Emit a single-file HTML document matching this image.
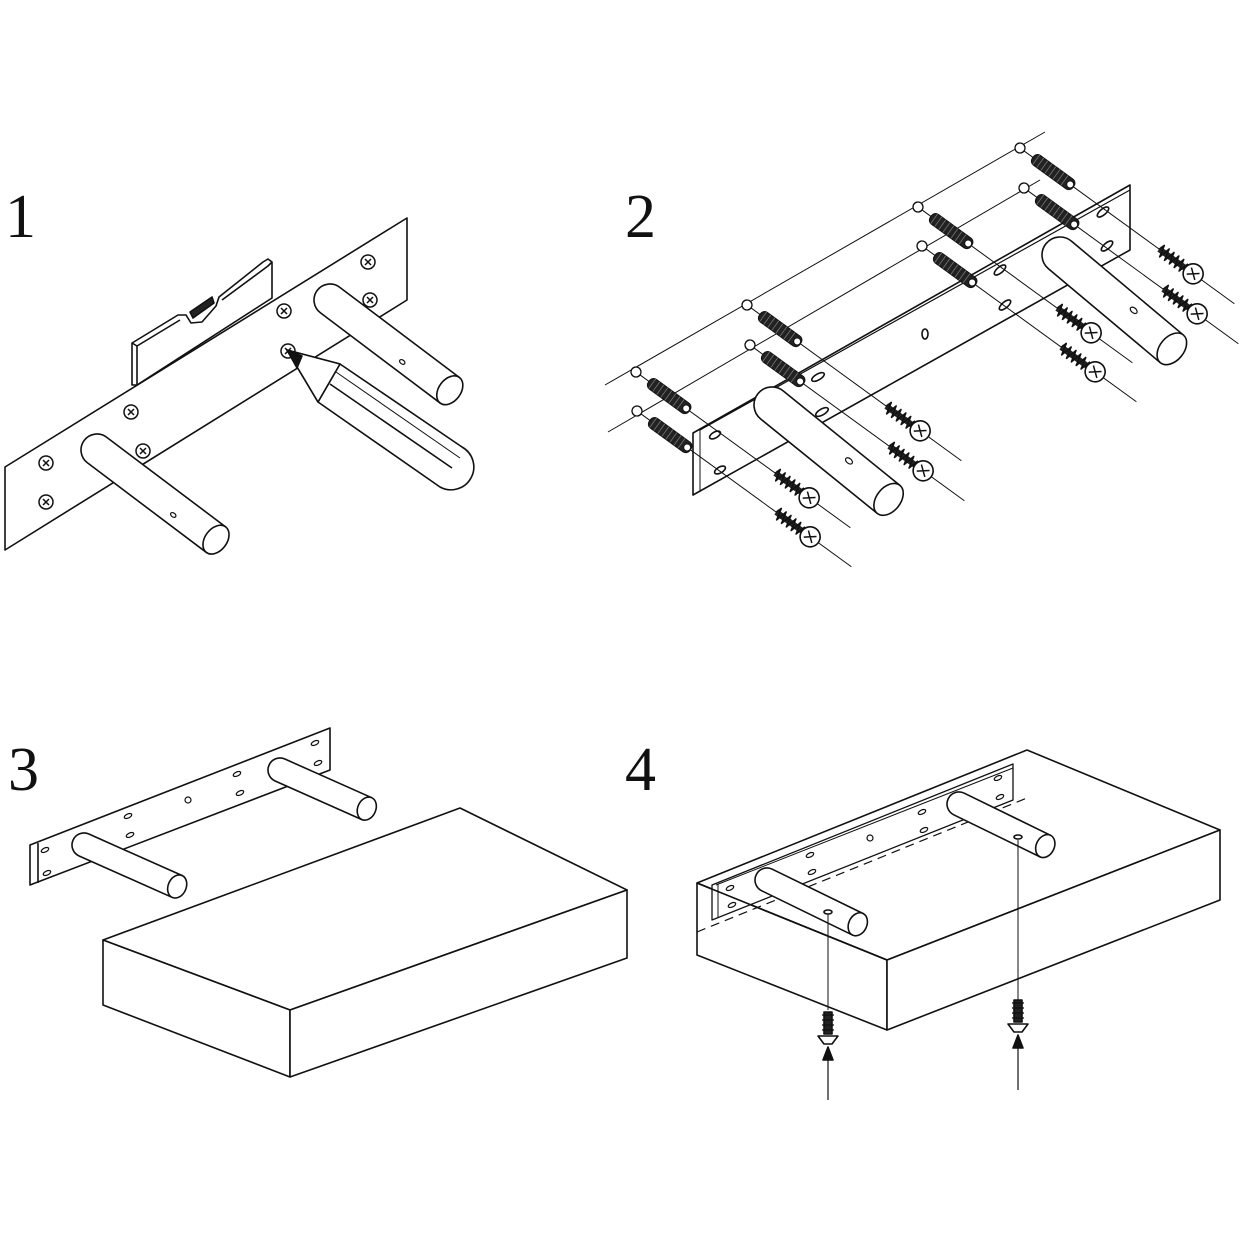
<!DOCTYPE html>
<html><head><meta charset="utf-8"><style>
html,body{margin:0;padding:0;background:#fff}
svg{display:block}
text{font-family:"Liberation Serif",serif;font-size:62px;fill:#111}
</style></head><body>
<svg width="1240" height="1240" viewBox="0 0 1240 1240" xmlns="http://www.w3.org/2000/svg">
<defs>
<g id="sh"><circle r="7" fill="#fff" stroke="#111" stroke-width="1.5"/><path d="M-3,-3L3,3M-3,3L3,-3" stroke="#111" stroke-width="1.5"/></g>
<g id="plugscrew" stroke="#111" fill="none">
 <circle cx="0" cy="0" r="5" fill="#fff" stroke-width="1.3"/>
 <line x1="5" y1="0" x2="265" y2="0" stroke-width="1"/>
 <rect x="16" y="-6" width="50" height="12" rx="5" fill="#222" stroke-width="1"/>
 <path d="M20,-6v12M25,-6v12M30,-6v12M35,-6v12M40,-6v12M45,-6v12M50,-6v12M55,-6v12" stroke="#777" stroke-width="0.8"/>
 <circle cx="62" cy="0" r="3.5" fill="#fff" stroke-width="1"/>
 <rect x="172" y="-3" width="34" height="6" fill="#222" stroke="none"/>
 <path d="M172,0 L174,-6 L177,6 L180,-6 L183,6 L186,-6 L189,6 L192,-6 L195,6 L198,-6 L201,6 L204,-5" stroke="#111" stroke-width="1.6"/>
 <circle cx="214" cy="0" r="10" fill="#fff" stroke-width="1.6"/>
 <path d="M209,-4L219,4M209,4L219,-4" stroke-width="1.5"/>
</g>
</defs>
<g fill="none" stroke="#111" stroke-width="1.6" stroke-linejoin="round">
<text x="5" y="237" stroke="none">1</text>
<text x="625" y="237" stroke="none">2</text>
<text x="8" y="790" stroke="none">3</text>
<text x="625" y="790" stroke="none">4</text>

<!-- PANEL 1 -->
<polygon points="5,467 407,218 407,300 5,550" fill="#fff"/>
<polygon points="132,343 137,340 178,315 186,315 191,323 202,322 216,306 219,297 263,262 268,259 272,262 272,298 137,385 132,385" fill="#fff"/>
<line x1="137" y1="346" x2="137" y2="385"/>
<polyline points="132,343 137,346 180,320"/>
<polyline points="222,300 268,266 272,262"/>
<path d="M193,318 L214,303 L212,297 L190,312Z" fill="#222"/>
<use href="#sh" x="46" y="463"/><use href="#sh" x="46" y="502"/>
<use href="#sh" x="131" y="412"/><use href="#sh" x="143" y="451"/>
<use href="#sh" x="284" y="311"/><use href="#sh" x="288" y="351"/>
<use href="#sh" x="368" y="262"/><use href="#sh" x="370" y="300"/>
<g transform="translate(97,450) rotate(37)"><path d="M0,-16 L149,-16 L149,16 L0,16 A16,16 0 0 1 0,-16Z" fill="#fff"/><ellipse cx="149" cy="0" rx="11" ry="16" fill="#fff"/><ellipse cx="100" cy="6" rx="3" ry="2" stroke-width="1.2"/></g>
<path d="M287,350 L340,364 L462,447 A22,22 0 0 1 440,487 L318,402 Z" fill="#fff"/>
<line x1="340" y1="364" x2="318" y2="402"/>
<line x1="330" y1="384" x2="452" y2="468"/>
<line x1="336" y1="372" x2="460" y2="458" stroke-width="1"/>
<g transform="translate(330,300) rotate(37)"><path d="M0,-16 L150,-16 L150,16 L0,16 A16,16 0 0 1 0,-16Z" fill="#fff"/><ellipse cx="150" cy="0" rx="11" ry="16" fill="#fff"/><ellipse cx="95" cy="6" rx="3" ry="2" stroke-width="1.2"/></g>
<path d="M287,350 L340,364 L318,402 Z" fill="#fff"/>
<path d="M287,350 L302,356 L297,368 Z" fill="#111"/>

<!-- PANEL 2 -->
<line x1="605" y1="385" x2="1045" y2="132" stroke-width="1"/>
<line x1="608" y1="432" x2="1040" y2="180" stroke-width="1"/>
<polygon points="693,433 1130,185 1130,250 693,495" fill="#fff"/>
<line x1="700" y1="430" x2="1130" y2="190" stroke-width="1.2"/>
<line x1="700" y1="430" x2="700" y2="492" stroke-width="1"/>
<ellipse cx="715" cy="435" rx="6" ry="3" transform="rotate(-30 715 435)"/>
<ellipse cx="720" cy="470" rx="6" ry="3" transform="rotate(-30 720 470)"/>
<ellipse cx="818" cy="377" rx="7" ry="3" transform="rotate(-30 818 377)"/>
<ellipse cx="822" cy="412" rx="7" ry="3" transform="rotate(-30 822 412)"/>
<ellipse cx="925" cy="334" rx="3" ry="5"/>
<ellipse cx="1000" cy="270" rx="7" ry="3" transform="rotate(-40 1000 270)"/>
<ellipse cx="1005" cy="305" rx="7" ry="3" transform="rotate(-40 1005 305)"/>
<ellipse cx="1103" cy="212" rx="7" ry="3" transform="rotate(-40 1103 212)"/>
<ellipse cx="1107" cy="246" rx="7" ry="3" transform="rotate(-40 1107 246)"/>
<g transform="translate(772,405) rotate(39)"><path d="M0,-18 L150,-18 L150,18 L0,18 A18,18 0 0 1 0,-18Z" fill="#fff"/><ellipse cx="150" cy="0" rx="12" ry="18" fill="#fff"/><ellipse cx="95" cy="-5" rx="4" ry="2.5" stroke-width="1.2"/></g>
<g transform="translate(1060,255) rotate(40)"><path d="M0,-18 L146,-18 L146,18 L0,18 A18,18 0 0 1 0,-18Z" fill="#fff"/><ellipse cx="146" cy="0" rx="12" ry="18" fill="#fff"/><ellipse cx="92" cy="-5" rx="4" ry="2.5" stroke-width="1.2"/></g>
<use href="#plugscrew" transform="translate(1020,148) rotate(36)"/>
<use href="#plugscrew" transform="translate(1024,188) rotate(36)"/>
<use href="#plugscrew" transform="translate(918,207) rotate(36)"/>
<use href="#plugscrew" transform="translate(922,246) rotate(36)"/>
<use href="#plugscrew" transform="translate(747,305) rotate(36)"/>
<use href="#plugscrew" transform="translate(750,345) rotate(36)"/>
<use href="#plugscrew" transform="translate(636,372) rotate(36)"/>
<use href="#plugscrew" transform="translate(637,411) rotate(36)"/>

<!-- PANEL 3 -->
<polygon points="30,845 330,728 330,770 30,885" fill="#fff"/>
<line x1="38" y1="843" x2="38" y2="883"/>
<g stroke-width="1.2">
<ellipse cx="45" cy="850" rx="4" ry="2" transform="rotate(-25 45 850)"/>
<ellipse cx="47" cy="873" rx="4" ry="2" transform="rotate(-25 47 873)"/>
<ellipse cx="128" cy="816" rx="4" ry="2" transform="rotate(-25 128 816)"/>
<ellipse cx="130" cy="835" rx="4" ry="2" transform="rotate(-25 130 835)"/>
<ellipse cx="188" cy="800" rx="3" ry="3"/>
<ellipse cx="237" cy="774" rx="4" ry="2" transform="rotate(-25 237 774)"/>
<ellipse cx="240" cy="793" rx="4" ry="2" transform="rotate(-25 240 793)"/>
<ellipse cx="315" cy="743" rx="4" ry="2" transform="rotate(-25 315 743)"/>
<ellipse cx="318" cy="763" rx="4" ry="2" transform="rotate(-25 318 763)"/>
</g>
<g transform="translate(84,845) rotate(24)"><path d="M0,-12 L102,-12 L102,12 L0,12 A12,12 0 0 1 0,-12Z" fill="#fff"/><ellipse cx="102" cy="0" rx="9" ry="12" fill="#fff"/></g>
<g transform="translate(280,770) rotate(24)"><path d="M0,-12 L95,-12 L95,12 L0,12 A12,12 0 0 1 0,-12Z" fill="#fff"/><ellipse cx="95" cy="0" rx="9" ry="12" fill="#fff"/></g>
<polygon points="103,940 460,808 627,890 290,1010" fill="#fff"/>
<polygon points="103,940 290,1010 290,1077 103,1005" fill="#fff"/>
<polygon points="290,1010 627,890 627,958 290,1077" fill="#fff"/>

<!-- PANEL 4 -->
<polygon points="697,883 1027,750 1220,830 887,960" fill="#fff"/>
<polygon points="697,883 887,960 887,1030 697,955" fill="#fff"/>
<polygon points="887,960 1220,830 1220,900 887,1030" fill="#fff"/>
<polygon points="712,885 1013,764 1013,800 712,920" fill="#fff" stroke-width="1.3"/>
<line x1="716" y1="885" x2="1013" y2="768" stroke-width="1"/>
<line x1="718" y1="884" x2="718" y2="918" stroke-width="1"/>
<line x1="697" y1="932" x2="1027" y2="798" stroke-dasharray="9,6" stroke-width="1.2"/>
<g stroke-width="1.2">
<ellipse cx="730" cy="888" rx="4" ry="2" transform="rotate(-25 730 888)"/>
<ellipse cx="732" cy="905" rx="4" ry="2" transform="rotate(-25 732 905)"/>
<ellipse cx="810" cy="855" rx="4" ry="2" transform="rotate(-25 810 855)"/>
<ellipse cx="812" cy="872" rx="4" ry="2" transform="rotate(-25 812 872)"/>
<ellipse cx="870" cy="838" rx="3" ry="3"/>
<ellipse cx="922" cy="812" rx="4" ry="2" transform="rotate(-25 922 812)"/>
<ellipse cx="924" cy="830" rx="4" ry="2" transform="rotate(-25 924 830)"/>
<ellipse cx="998" cy="778" rx="4" ry="2" transform="rotate(-25 998 778)"/>
<ellipse cx="1000" cy="797" rx="4" ry="2" transform="rotate(-25 1000 797)"/>
</g>
<line x1="697" y1="883" x2="887" y2="960" stroke-width="1.6"/>
<g transform="translate(767,880) rotate(26)"><path d="M0,-12 L101,-12 L101,12 L0,12 A12,12 0 0 1 0,-12Z" fill="#fff"/><ellipse cx="101" cy="0" rx="9" ry="12" fill="#fff"/></g>
<g transform="translate(959,804) rotate(26)"><path d="M0,-12 L96,-12 L96,12 L0,12 A12,12 0 0 1 0,-12Z" fill="#fff"/><ellipse cx="96" cy="0" rx="9" ry="12" fill="#fff"/></g>
<ellipse cx="828" cy="912" rx="4" ry="2"/>
<ellipse cx="1018" cy="837" rx="4" ry="2"/>
<line x1="828" y1="914" x2="828" y2="1010" stroke-width="1"/>
<line x1="1018" y1="840" x2="1018" y2="1000" stroke-width="1"/>
<g>
<rect x="824" y="1012" width="8" height="22" fill="#222"/>
<path d="M822,1015h12M822,1020h12M822,1025h12M822,1030h12" stroke-width="1.2"/>
<path d="M818,1036 L838,1036 L832,1044 L824,1044Z" fill="#fff"/>
<polygon points="828,1047 823,1060 833,1060" fill="#111"/>
<line x1="828" y1="1060" x2="828" y2="1100" stroke-width="1.2"/>
</g>
<g>
<rect x="1014" y="1000" width="8" height="22" fill="#222"/>
<path d="M1012,1003h12M1012,1008h12M1012,1013h12M1012,1018h12" stroke-width="1.2"/>
<path d="M1008,1024 L1028,1024 L1022,1032 L1014,1032Z" fill="#fff"/>
<polygon points="1018,1035 1013,1048 1023,1048" fill="#111"/>
<line x1="1018" y1="1048" x2="1018" y2="1090" stroke-width="1.2"/>
</g>
</g>
</svg>
</body></html>
